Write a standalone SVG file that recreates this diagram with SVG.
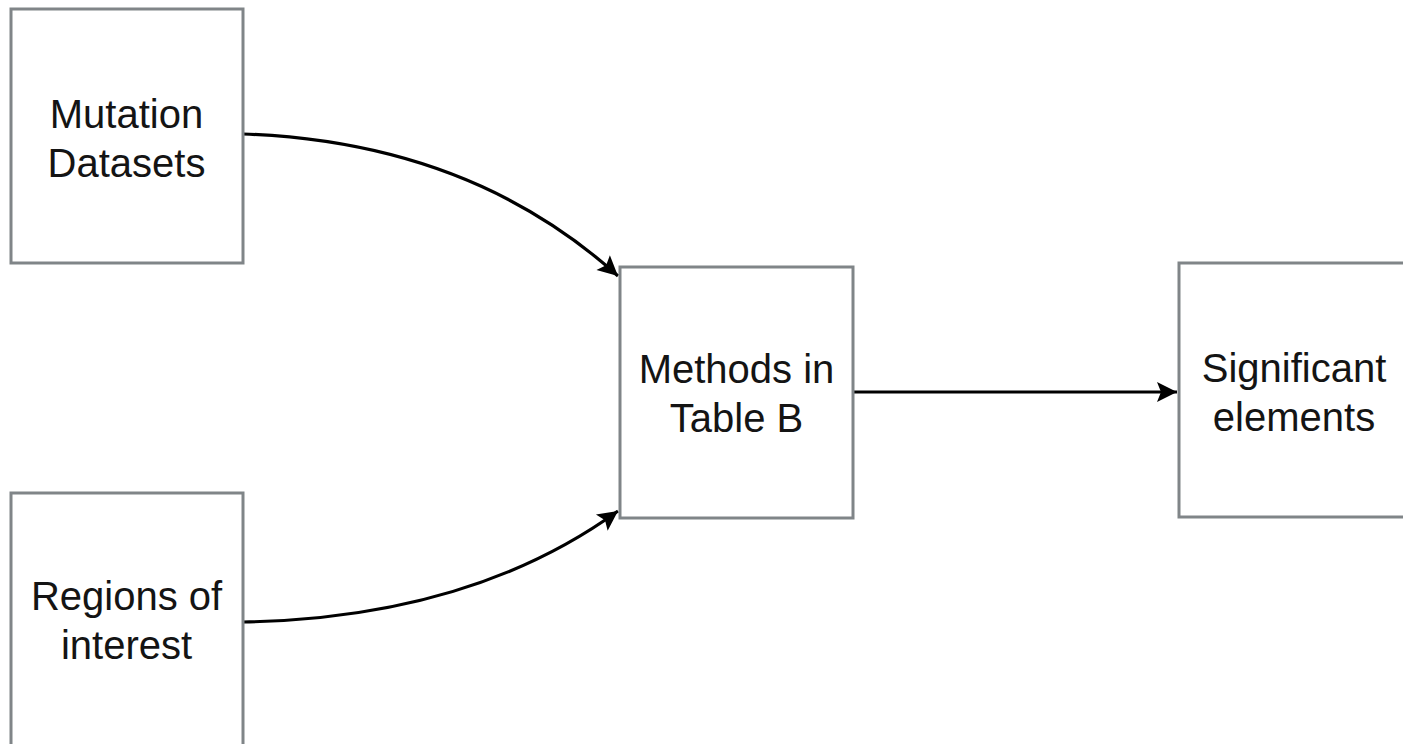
<svg xmlns="http://www.w3.org/2000/svg" width="1403" height="744" viewBox="0 0 1403 744">
  <style>
    .box { fill: #ffffff; stroke: #808588; stroke-width: 3; }
    .lbl { font-family: "Liberation Sans", Arial, Helvetica, sans-serif; font-size: 40px; fill: #141414; text-anchor: middle; }
    .edge { fill: none; stroke: #000000; stroke-width: 3.2; }
  </style>
  <defs>
    <marker id="arr" markerUnits="userSpaceOnUse" markerWidth="24" markerHeight="22" refX="20" refY="10" orient="auto" overflow="visible">
      <path d="M0,0 L20,10 L0,20 L4,10 z" fill="#000000"/>
    </marker>
  </defs>
  <rect width="1403" height="744" fill="#ffffff"/>
  <g id="connectors">
    <path class="edge" d="M243,134 Q470,142 618,276" marker-end="url(#arr)"/>
    <path class="edge" d="M243,622 Q470,618 618,511" marker-end="url(#arr)"/>
    <path class="edge" d="M853,392 L1177,392" marker-end="url(#arr)"/>
  </g>
  <g id="mutation-datasets">
    <rect class="box" x="11" y="9" width="232" height="254"/>
    <text class="lbl" x="126.5" y="127.5">Mutation</text>
    <text class="lbl" x="126.5" y="176.5">Datasets</text>
  </g>
  <g id="regions-of-interest">
    <rect class="box" x="11" y="493" width="232" height="254"/>
    <text class="lbl" x="126.5" y="610">Regions of</text>
    <text class="lbl" x="126.5" y="659">interest</text>
  </g>
  <g id="methods">
    <rect class="box" x="620" y="267" width="233" height="251"/>
    <text class="lbl" x="736.5" y="383">Methods in</text>
    <text class="lbl" x="736.5" y="432">Table B</text>
  </g>
  <g id="significant-elements">
    <rect class="box" x="1179" y="263" width="233" height="254"/>
    <text class="lbl" x="1294" y="382">Significant</text>
    <text class="lbl" x="1294" y="431">elements</text>
  </g>
</svg>
